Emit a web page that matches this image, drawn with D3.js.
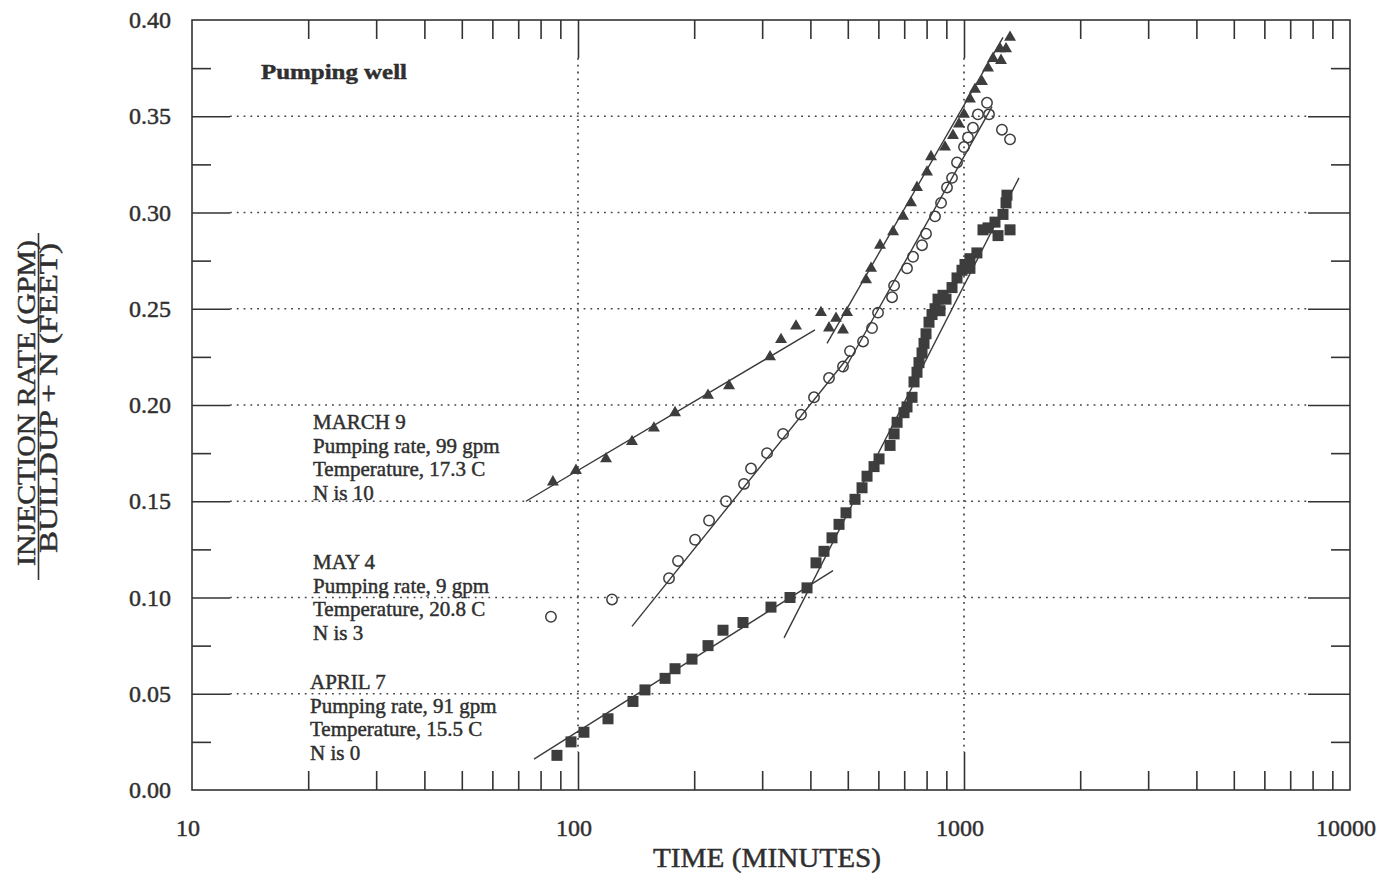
<!DOCTYPE html>
<html lang="en">
<head>
  <meta charset="UTF-8">
  <title>Pumping well</title>
  <script src="https://d3js.org/d3.v7.min.js"></script>
  <style>
    body { margin: 0; background: #fff; }
    svg { display: block; }
    text { font-family: "Liberation Serif", "DejaVu Serif", serif; fill: #2f2f2f; stroke: #2f2f2f; stroke-width: 0.45px; }
    .frame { fill: none; stroke: #333; stroke-width: 1.6px; }
    .tick line { stroke: #333; stroke-width: 1.6px; }
    .domain { display: none; }
    .grid { stroke: #444; stroke-width: 1.7px; stroke-dasharray: 1.8,5; }
    .fit { stroke: #3a3a3a; stroke-width: 1.4px; fill: none; }
  </style>
</head>
<body>
<svg width="1400" height="881"></svg>

<script>
// MARCH 9 (N is 10) - filled triangles
const marchTime = [86.1, 98.8, 118.2, 138.0, 157.3, 178.4, 217.2, 246.2, 314.4, 335.7, 367.1, 426.1, 447.0,
  466.1, 485.9, 497.7, 557.5, 574.4, 605.9, 655.0, 695.0, 729.0, 755.5, 802.0, 821.4, 892.9, 936.4, 970.5,
  1000, 1036, 1068, 1113, 1154, 1189, 1240, 1285, 1247, 1316];
const marchValue = [0.160, 0.166, 0.172, 0.181, 0.188, 0.196, 0.205, 0.210, 0.225, 0.234, 0.241, 0.248, 0.240,
  0.245, 0.239, 0.248, 0.265, 0.271, 0.283, 0.290, 0.298, 0.305, 0.313, 0.321, 0.329, 0.334, 0.340, 0.346,
  0.351, 0.359, 0.364, 0.368, 0.375, 0.380, 0.385, 0.385, 0.379, 0.391];

// MAY 4 (N is 3) - open circles
const mayTime = [85.1, 122.5, 172.1, 181.6, 201.0, 218.5, 241.8, 269.2, 280.7, 308.8, 339.8, 378.2, 408.7,
  447.0, 485.9, 506.6, 547.6, 577.8, 598.8, 651.1, 659.0, 711.8, 737.8, 778.5, 797.3, 841.3, 872.0, 903.6,
  931.0, 959.2, 1000, 1024, 1055, 1087, 1147, 1161, 1254, 1316];
const mayValue = [0.090, 0.099, 0.110, 0.119, 0.130, 0.140, 0.150, 0.159, 0.167, 0.175, 0.185, 0.195, 0.204,
  0.214, 0.220, 0.228, 0.233, 0.240, 0.248, 0.256, 0.262, 0.271, 0.277, 0.283, 0.289, 0.298, 0.305, 0.313,
  0.318, 0.326, 0.334, 0.339, 0.344, 0.351, 0.357, 0.351, 0.343, 0.338];

// APRIL 7 (N is 0) - filled squares
const aprilTime = [88.2, 95.9, 103.6, 119.6, 138.8, 149.1, 168.1, 178.4, 197.4, 217.2, 237.5, 267.6, 316.2,
  354.2, 392.0, 413.6, 433.8, 455.0, 474.5, 494.7, 522.0, 544.3, 560.8, 584.7, 602.4, 643.3, 659.0, 670.9,
  699.2, 711.8, 733.4, 742.2, 755.5, 764.5, 778.5, 787.8, 797.3, 811.6, 826.3, 841.3, 856.4, 882.3, 866.7,
  898.2, 931.0, 959.2, 988.1, 1006, 1036, 1080, 1120, 1154, 1203, 1225, 1262, 1285, 1292, 1316, 1036];
const aprilValue = [0.018, 0.025, 0.030, 0.037, 0.046, 0.052, 0.058, 0.063, 0.068, 0.075, 0.083, 0.087, 0.095,
  0.100, 0.105, 0.118, 0.124, 0.131, 0.138, 0.144, 0.151, 0.157, 0.163, 0.168, 0.172, 0.179, 0.185, 0.191,
  0.196, 0.199, 0.204, 0.212, 0.217, 0.222, 0.227, 0.232, 0.237, 0.243, 0.247, 0.250, 0.255, 0.257, 0.249,
  0.255, 0.261, 0.266, 0.270, 0.273, 0.276, 0.279, 0.291, 0.292, 0.295, 0.288, 0.299, 0.305, 0.309, 0.291, 0.271];

// straight-line fits, [time1, value1, time2, value2]
const fitLines = [
  [73.3, 0.150, 411.1, 0.239],
  [441.7, 0.232, 1262, 0.391],
  [138.0, 0.085, 506.6, 0.226],
  [485.9, 0.217, 1182, 0.355],
  [76.9, 0.016, 457.7, 0.114],
  [341.8, 0.079, 1388, 0.318]
];

const xDecades = [10, 100, 1000, 10000];
const yTickValues = [0, 0.05, 0.10, 0.15, 0.20, 0.25, 0.30, 0.35, 0.40];

const notes = [
  ["MARCH 9", "Pumping rate, 99 gpm", "Temperature, 17.3 C", "N is 10"],
  ["MAY 4", "Pumping rate, 9 gpm", "Temperature, 20.8 C", "N is 3"],
  ["APRIL 7", "Pumping rate, 91 gpm", "Temperature, 15.5 C", "N is 0"]
];

const svg = d3.select('svg');
const plotL = 192, plotR = 1350, plotT = 20, plotB = 790;

const x = d3.scaleLog().domain([10, 10000]).range([plotL, plotR]);
const y = d3.scaleLinear().domain([0, 0.4]).range([plotB, plotT]);

// minor/major ticks
const xMinor = [];
xDecades.slice(0, 3).forEach(d => { for (let k = 2; k <= 9; k++) xMinor.push(d * k); });
const xMajor = [100, 1000];
const yMajor = yTickValues.slice(1, -1);
const yMinor = d3.range(0.025, 0.4, 0.05);

// gridlines
const grid = svg.append('g');
grid.selectAll('line.h').data(yMajor).enter().append('line')
  .attr('class', 'grid')
  .attr('x1', plotL + 38).attr('x2', plotR - 40)
  .attr('y1', d => y(d)).attr('y2', d => y(d));
grid.selectAll('line.v').data(xMajor).enter().append('line')
  .attr('class', 'grid')
  .attr('x1', d => x(d)).attr('x2', d => x(d))
  .attr('y1', plotT + 38).attr('y2', plotB - 38);

// inward tick marks on all four sides
function ticks(axis, vals, size, tx, ty) {
  svg.append('g').attr('transform', `translate(${tx},${ty})`)
    .call(axis.tickValues(vals).tickSize(size).tickFormat(''));
}
ticks(d3.axisBottom(x), xMinor, -19, 0, plotB);
ticks(d3.axisBottom(x), xMajor, -38, 0, plotB);
ticks(d3.axisTop(x), xMinor, -19, 0, plotT);
ticks(d3.axisTop(x), xMajor, -38, 0, plotT);
ticks(d3.axisLeft(y), yMinor, -19, plotL, 0);
ticks(d3.axisLeft(y), yMajor, -38, plotL, 0);
ticks(d3.axisRight(y), yMinor, -19, plotR, 0);
ticks(d3.axisRight(y), yMajor, -42, plotR, 0);

svg.append('rect').attr('class', 'frame')
  .attr('x', plotL).attr('y', plotT).attr('width', plotR - plotL).attr('height', plotB - plotT);

// tick labels
svg.append('g').selectAll('text').data(xDecades).enter().append('text')
  .attr('x', d => x(d) - 4).attr('y', 836)
  .attr('text-anchor', 'middle').style('font-size', '24px')
  .text(d => d);
svg.append('g').selectAll('text').data(yTickValues).enter().append('text')
  .attr('x', 171).attr('y', d => y(d) + 8)
  .attr('text-anchor', 'end').style('font-size', '24px')
  .text(d => d.toFixed(2));

// axis titles
svg.append('text').attr('x', 767).attr('y', 867).attr('text-anchor', 'middle')
  .style('font-size', '27px').attr('textLength', 228).attr('lengthAdjust', 'spacingAndGlyphs')
  .text('TIME (MINUTES)');

const yt = svg.append('g').attr('transform', 'translate(0,403) rotate(-90)');
yt.append('text').attr('x', 0).attr('y', 35).attr('text-anchor', 'middle')
  .style('font-size', '26px').attr('textLength', 326).attr('lengthAdjust', 'spacingAndGlyphs')
  .text('INJECTION RATE (GPM)');
yt.append('line').attr('x1', -177).attr('x2', 170).attr('y1', 38.5).attr('y2', 38.5)
  .attr('stroke', '#333').attr('stroke-width', 1.6);
yt.append('text').attr('x', 5).attr('y', 57).attr('text-anchor', 'middle')
  .style('font-size', '25px').attr('textLength', 310).attr('lengthAdjust', 'spacingAndGlyphs')
  .text('BUILDUP + N (FEET)');

// fitted lines
svg.append('g').selectAll('line').data(fitLines).enter().append('line')
  .attr('class', 'fit')
  .attr('x1', d => x(d[0])).attr('y1', d => y(d[1]))
  .attr('x2', d => x(d[2])).attr('y2', d => y(d[3]));

// markers
const ink = '#3d3d3d';
svg.append('g').selectAll('path').data(d3.zip(marchTime, marchValue)).enter().append('path')
  .attr('d', d3.symbol(d3.symbolTriangle, 62))
  .attr('transform', d => `translate(${x(d[0])},${y(d[1])})`)
  .attr('fill', ink);
svg.append('g').selectAll('circle').data(d3.zip(mayTime, mayValue)).enter().append('circle')
  .attr('cx', d => x(d[0])).attr('cy', d => y(d[1])).attr('r', 5.2)
  .attr('fill', 'none').attr('stroke', ink).attr('stroke-width', 1.5);
svg.append('g').selectAll('rect').data(d3.zip(aprilTime, aprilValue)).enter().append('rect')
  .attr('x', d => x(d[0]) - 5.5).attr('y', d => y(d[1]) - 5.5)
  .attr('width', 11).attr('height', 11)
  .attr('fill', ink);

// annotations
svg.append('text').attr('x', 261).attr('y', 79)
  .style('font-size', '22px').style('font-weight', 'bold')
  .attr('textLength', 146).attr('lengthAdjust', 'spacingAndGlyphs')
  .text('Pumping well');

const notePos = [[313, 429], [313, 569], [310, 689]];
notes.forEach((lines, i) => {
  const t = svg.append('text').attr('x', notePos[i][0]).attr('y', notePos[i][1])
    .style('font-size', '21px');
  lines.forEach((s, j) => {
    t.append('tspan').attr('x', notePos[i][0]).attr('dy', j ? 23.5 : 0).text(s);
  });
});
</script>
</body>
</html>
